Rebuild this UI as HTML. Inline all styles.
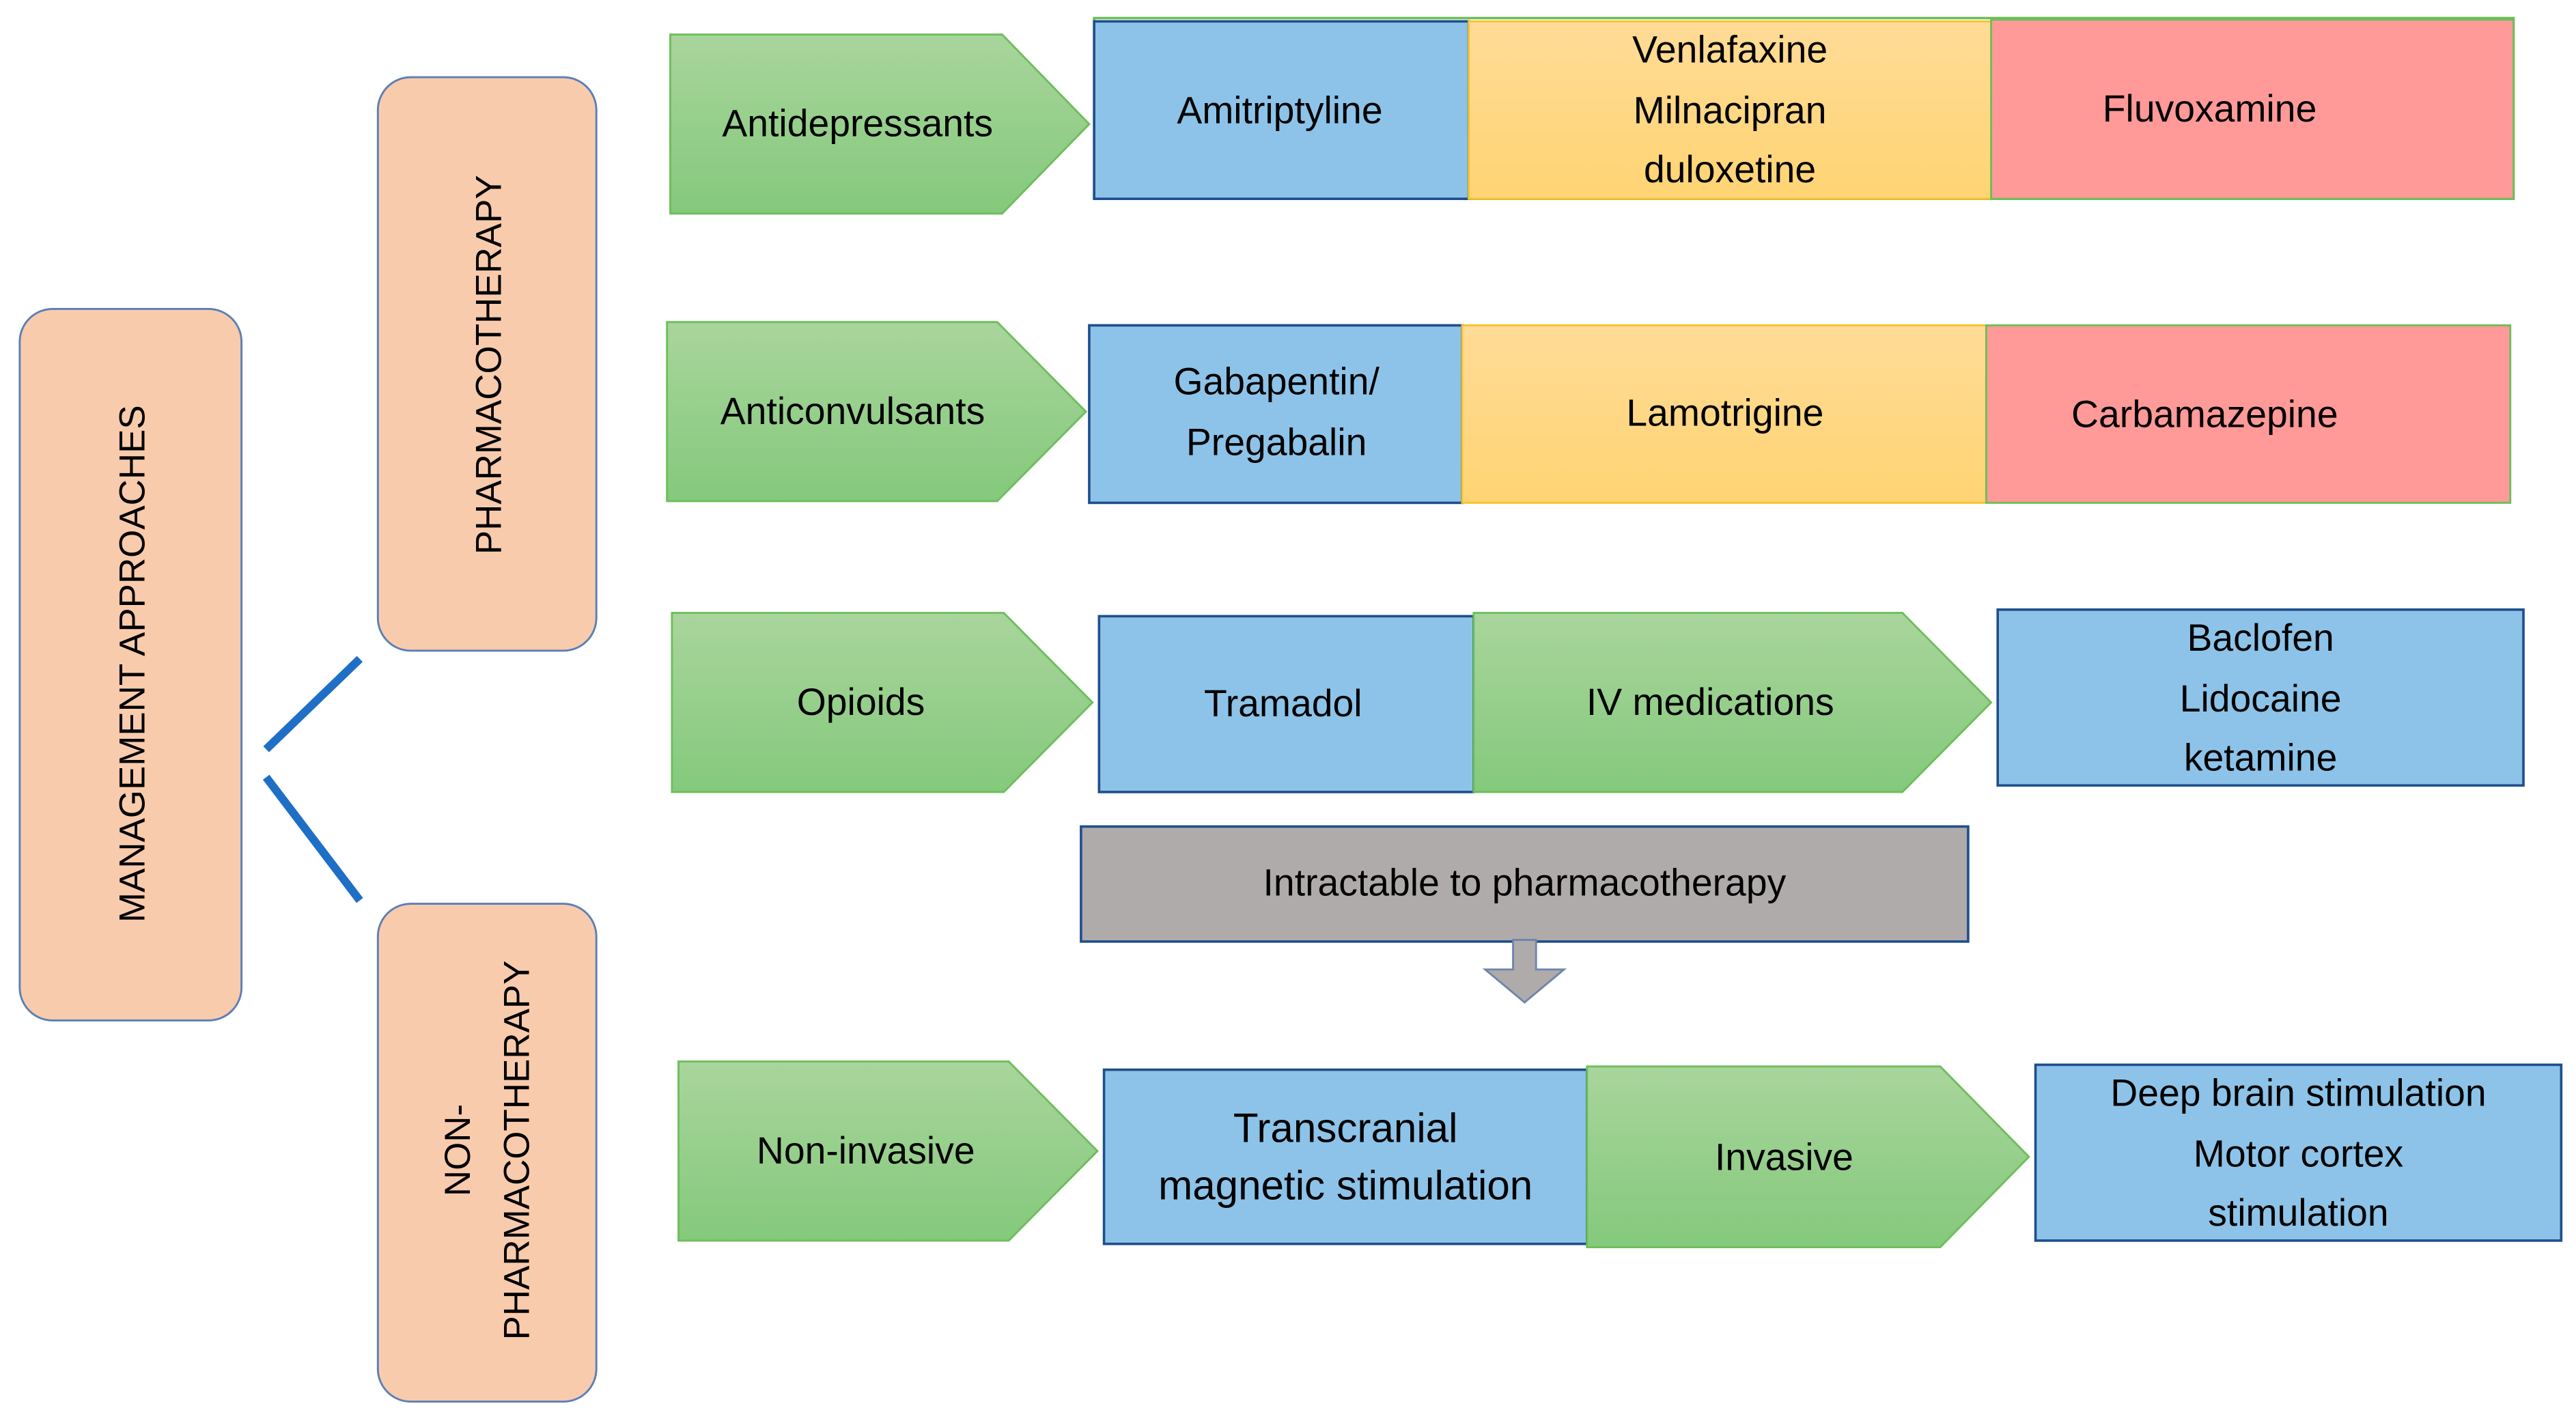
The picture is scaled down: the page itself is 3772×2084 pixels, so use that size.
<!DOCTYPE html>
<html><head><meta charset="utf-8"><style>
html,body{margin:0;padding:0;background:#fff;}
svg{display:block;}
text{font-family:"Liberation Sans",sans-serif;fill:#000;}
</style></head><body>
<svg width="3772" height="2084" viewBox="0 0 1568 866" preserveAspectRatio="none" xmlns="http://www.w3.org/2000/svg">
<defs>
<linearGradient id="g" x1="0" y1="0" x2="0" y2="1"><stop offset="0" stop-color="#A9D59C"/><stop offset="1" stop-color="#84C97C"/></linearGradient>
<linearGradient id="y" x1="0" y1="0" x2="0" y2="1"><stop offset="0" stop-color="#FFDB97"/><stop offset="1" stop-color="#FFD473"/></linearGradient>
</defs>
<rect width="1568" height="866" fill="#fff"/>
<!-- left tree -->
<rect x="12" y="188" width="135" height="433" rx="20" fill="#F8CBAD" stroke="#5B7FB5" stroke-width="1.2"/>
<text transform="translate(88,404) rotate(-90)" text-anchor="middle" font-size="22">MANAGEMENT APPROACHES</text>
<rect x="230" y="47" width="133" height="349" rx="20" fill="#F8CBAD" stroke="#5B7FB5" stroke-width="1.2"/>
<text transform="translate(305,222) rotate(-90)" text-anchor="middle" font-size="22">PHARMACOTHERAPY</text>
<rect x="230" y="550" width="133" height="303" rx="20" fill="#F8CBAD" stroke="#5B7FB5" stroke-width="1.2"/>
<text transform="translate(286,700) rotate(-90)" text-anchor="middle" font-size="22">NON-</text>
<text transform="translate(322,700) rotate(-90)" text-anchor="middle" font-size="22">PHARMACOTHERAPY</text>
<line x1="162" y1="456" x2="219" y2="401" stroke="#1F6FC6" stroke-width="5"/>
<line x1="162" y1="473" x2="219" y2="548" stroke="#1F6FC6" stroke-width="5"/>

<g font-size="23" text-anchor="middle">
<!-- Row 1 -->
<polygon points="408,21 610,21 663,75.5 610,130 408,130" fill="url(#g)" stroke="#6DBE5A" stroke-width="1.2"/>
<text x="522" y="83">Antidepressants</text>
<rect x="666" y="11" width="864" height="110" fill="none" stroke="#6DBE5A" stroke-width="1.5"/>
<rect x="666" y="13" width="228" height="108" fill="#8DC3E8" stroke="#1F4E8C" stroke-width="1.5"/>
<text x="779" y="75">Amitriptyline</text>
<rect x="894" y="13" width="318" height="108" fill="url(#y)" stroke="#F7C22E" stroke-width="1.2"/>
<text x="1053" y="38">Venlafaxine</text>
<text x="1053" y="75">Milnacipran</text>
<text x="1053" y="111">duloxetine</text>
<rect x="1212" y="12" width="318" height="109" fill="#FF9A98" stroke="#6DBE5A" stroke-width="1.2"/>
<text x="1345" y="74">Fluvoxamine</text>

<!-- Row 2 -->
<polygon points="406,196 607,196 661,250.5 607,305 406,305" fill="url(#g)" stroke="#6DBE5A" stroke-width="1.2"/>
<text x="519" y="258">Anticonvulsants</text>
<rect x="663" y="198" width="227" height="108" fill="#8DC3E8" stroke="#1F4E8C" stroke-width="1.5"/>
<text x="777" y="240">Gabapentin/</text>
<text x="777" y="277">Pregabalin</text>
<rect x="890" y="198" width="319" height="108" fill="url(#y)" stroke="#F7C22E" stroke-width="1.2"/>
<text x="1050" y="259">Lamotrigine</text>
<rect x="1209" y="198" width="319" height="108" fill="#FF9A98" stroke="#6DBE5A" stroke-width="1.2"/>
<text x="1342" y="260">Carbamazepine</text>

<!-- Row 3 -->
<polygon points="409,373 611,373 665,427.5 611,482 409,482" fill="url(#g)" stroke="#6DBE5A" stroke-width="1.2"/>
<text x="524" y="435">Opioids</text>
<rect x="669" y="375" width="228" height="107" fill="#8DC3E8" stroke="#1F4E8C" stroke-width="1.5"/>
<text x="781" y="436">Tramadol</text>
<polygon points="897,373 1158,373 1212,427.5 1158,482 897,482" fill="url(#g)" stroke="#6DBE5A" stroke-width="1.2"/>
<text x="1041" y="435">IV medications</text>
<rect x="1216" y="371" width="320" height="107" fill="#8DC3E8" stroke="#1F4E8C" stroke-width="1.5"/>
<text x="1376" y="396">Baclofen</text>
<text x="1376" y="433">Lidocaine</text>
<text x="1376" y="469">ketamine</text>

<!-- Intractable -->
<rect x="658" y="503" width="540" height="70" fill="#AFABAB" stroke="#1F4E8C" stroke-width="1.5"/>
<text x="928" y="545">Intractable to pharmacotherapy</text>
<polygon points="921,572 935,572 935,590 952,590 928,610 904,590 921,590" fill="#AFABAB" stroke="#6F86AC" stroke-width="1.2"/>

<!-- Row 4 -->
<polygon points="413,646 614,646 668,700.5 614,755 413,755" fill="url(#g)" stroke="#6DBE5A" stroke-width="1.2"/>
<text x="527" y="708">Non-invasive</text>
<rect x="672" y="651" width="294" height="106" fill="#8DC3E8" stroke="#1F4E8C" stroke-width="1.5"/>
<text x="819" y="695" font-family="Liberation Serif, serif" font-size="25">Transcranial</text>
<text x="819" y="730" font-family="Liberation Serif, serif" font-size="25">magnetic stimulation</text>
<polygon points="966,649 1181,649 1235,704 1181,759 966,759" fill="url(#g)" stroke="#6DBE5A" stroke-width="1.2"/>
<text x="1086" y="712">Invasive</text>
<rect x="1239" y="648" width="320" height="107" fill="#8DC3E8" stroke="#1F4E8C" stroke-width="1.5"/>
<text x="1399" y="673">Deep brain stimulation</text>
<text x="1399" y="710">Motor cortex</text>
<text x="1399" y="746">stimulation</text>
</g>
</svg>
</body></html>
